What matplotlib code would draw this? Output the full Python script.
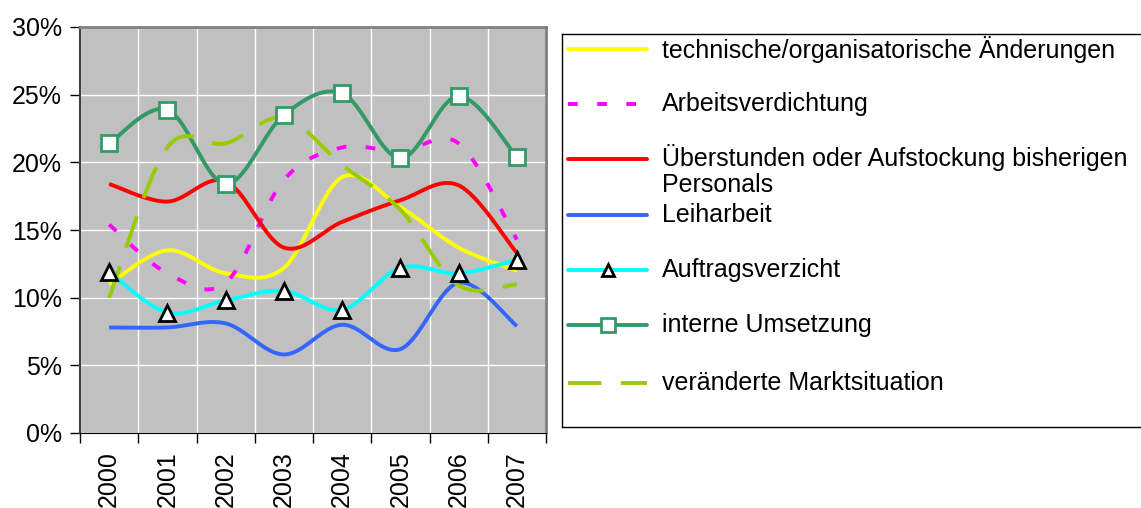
import numpy as np
import matplotlib.pyplot as plt

plt.rcParams['font.family'] = ['Liberation Sans', 'DejaVu Sans']
plt.rcParams['lines.scale_dashes'] = False

years = ["2000", "2001", "2002", "2003", "2004", "2005", "2006", "2007"]
technisch = [11.0, 13.5, 11.8, 12.2, 18.9, 16.7, 13.7, 12.0]
verdichtung = [15.4, 11.8, 11.1, 18.7, 21.1, 20.8, 21.4, 14.3]
ueberstunden = [18.4, 17.1, 18.6, 13.7, 15.6, 17.2, 18.3, 13.3]
leiharbeit = [7.8, 7.8, 8.1, 5.8, 8.0, 6.2, 11.1, 7.9]
verzicht = [11.9, 8.9, 9.8, 10.5, 9.1, 12.2, 11.8, 12.8]
umsetzung = [21.4, 23.9, 18.4, 23.5, 25.1, 20.3, 24.9, 20.4]
markt = [10.0, 21.1, 21.4, 23.3, 19.8, 16.5, 10.9, 11.0]

labels = ["technische/organisatorische Änderungen", "Arbeitsverdichtung",
          "Überstunden oder Aufstockung bisherigen\nPersonals", "Leiharbeit",
          "Auftragsverzicht", "interne Umsetzung", "veränderte Marktsituation"]


def smooth(x, y, n=40):
    # Excel-like smoothed line (Bezier through the points)
    pts = np.column_stack([x, y]).astype(float)
    P = np.vstack([pts[0], pts, pts[-1]])
    t = np.linspace(0, 1, n)[:, None]
    segs = []
    for i in range(1, len(P) - 2):
        p0, p1, p2, p3 = P[i - 1], P[i], P[i + 1], P[i + 2]
        c1 = p1 + (p2 - p0) / 6
        c2 = p2 - (p3 - p1) / 6
        segs.append((1 - t) ** 3 * p1 + 3 * (1 - t) ** 2 * t * c1 + 3 * (1 - t) * t ** 2 * c2 + t ** 3 * p2)
    s = np.vstack(segs)
    return s[:, 0], s[:, 1]


fig = plt.figure(figsize=(11.41, 5.08), dpi=100)
W, H = 1141, 508
ax = fig.add_axes([80 / W, (H - 433) / H, (546 - 80) / W, (433 - 27) / H])
ax.set_facecolor("#c0c0c0")

xpos = np.arange(len(years)) + 0.5
lw = 2.8
styles = [
    (technisch, dict(color="#ffff00")),
    (verdichtung, dict(color="#ff00ff", dashes=(7, 14))),
    (ueberstunden, dict(color="#ff0000")),
    (leiharbeit, dict(color="#3366ff")),
    (verzicht, dict(color="#00ffff")),
    (umsetzung, dict(color="#339966")),
    (markt, dict(color="#99cc00", dashes=(24, 14))),
]
for vals, st in styles:
    sx, sy = smooth(xpos, vals)
    ax.plot(sx, sy, lw=lw, solid_capstyle="butt", dash_capstyle="butt", zorder=3, **st)

ax.plot(xpos, verzicht, ls="none", marker="^", ms=11, mfc="white", mec="black", mew=2, zorder=4)
ax.plot(xpos, umsetzung, ls="none", marker="s", ms=11, mfc="white", mec="#339966", mew=2, zorder=4)

ax.set_xlim(0, 8)
ax.set_ylim(0, 30)
ax.set_yticks(range(0, 31, 5))
ax.set_yticklabels([f"{v}%" for v in range(0, 31, 5)], fontsize=18)
ax.set_xticks(range(0, 9))
ax.set_xticklabels([])
ax.set_xticks(xpos, minor=True)
ax.set_xticklabels(years, minor=True, rotation=90, fontsize=18, va="top")
ax.tick_params(axis="x", which="minor", length=0, pad=13)
ax.tick_params(axis="y", which="major", pad=6)
ax.tick_params(axis="both", which="major", length=7, width=1, direction="out")
ax.grid(True, which="major", color="white", lw=1)
ax.set_axisbelow(True)
for side in ["top", "right"]:
    ax.spines[side].set_color("#808080")
    ax.spines[side].set_linewidth(2)
ax.spines["left"].set_color("#404040")
ax.spines["left"].set_linewidth(1.5)

# legend box
lax = fig.add_axes([562 / W, (H - 427) / H, 600 / W, (427 - 34) / H])
lax.set_xlim(0, 600)
lax.set_ylim(427 - 34, 0)
lax.set_xticks([])
lax.set_yticks([])
for sp in lax.spines.values():
    sp.set_linewidth(1)
rows = [15, 70, 125, 181, 236, 291, 349]
for (vals, st), lab, ry in zip(styles, labels, rows):
    lax.plot([6, 85], [ry, ry], lw=lw, solid_capstyle="round", **st)
    multi = "\n" in lab
    lax.text(100, ry - 15 if multi else ry, lab, fontsize=18, va="top" if multi else "center",
             ha="left", linespacing=1.1)
lax.plot([46], [rows[4]], marker="^", ms=9, mfc="white", mec="black", mew=2)
lax.plot([46], [rows[5]], marker="s", ms=10, mfc="white", mec="#339966", mew=2)

fig.savefig("out.png", dpi=100)
